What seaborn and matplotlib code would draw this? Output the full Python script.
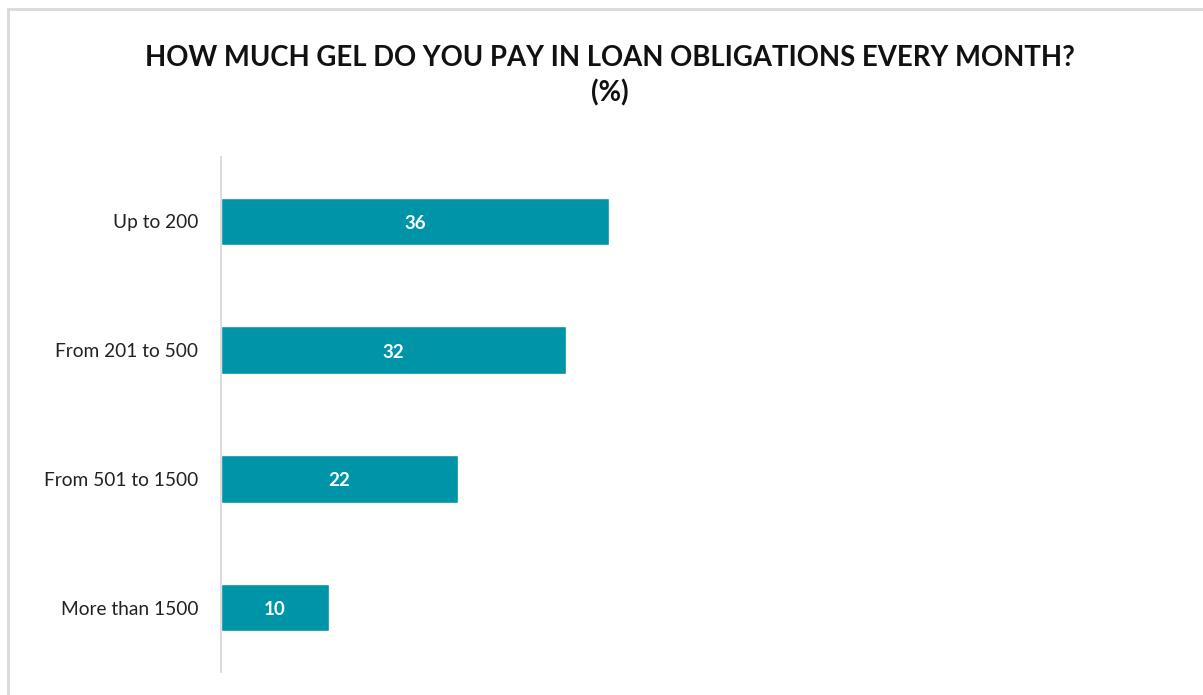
import matplotlib
matplotlib.use("Agg")
import matplotlib.pyplot as plt
import seaborn as sns
import pandas as pd
from matplotlib.patches import Rectangle

categories = ["Up to 200", "From 201 to 500", "From 501 to 1500", "More than 1500"]
values = [36, 32, 22, 10]
title_text = "HOW MUCH GEL DO YOU PAY IN LOAN OBLIGATIONS EVERY MONTH?\n(%)"

BAR_COLOR = "#0094A8"
AXIS_GREY = "#D9D9D9"

sns.set_theme(style="white")
plt.rcParams["font.family"] = ["Lato", "DejaVu Sans"]

df = pd.DataFrame({"category": categories, "value": values})

fig = plt.figure(figsize=(12.03, 6.95), dpi=100)
fig.patch.set_facecolor("white")

# light frame around the chart area
fig.patches.append(Rectangle((8 / 1203, -0.05), 1.1, 0.05 + (695 - 9) / 695,
                             transform=fig.transFigure, fill=False,
                             edgecolor=AXIS_GREY, linewidth=2, zorder=0))

ax = fig.add_axes([221 / 1203, 23 / 695, 970 / 1203, 515 / 695])
sns.barplot(data=df, x="value", y="category", color=BAR_COLOR, width=0.37,
            saturation=1, ax=ax, orient="h")

ax.set_xlim(0, 970 / 10.78)
ax.set_ylim(3.5, -0.5)
ax.set_xlabel("")
ax.set_ylabel("")
ax.set_xticks([])
ax.tick_params(axis="y", length=0, pad=16.5, labelsize=13.8, labelcolor="#222222")
for side in ["top", "right", "bottom"]:
    ax.spines[side].set_visible(False)
ax.spines["left"].set_color(AXIS_GREY)
ax.spines["left"].set_linewidth(1.3)

for container in ax.containers:
    labels = ax.bar_label(container, labels=[f"{v:g}" for v in values],
                          label_type="center", color="white", fontsize=13.5,
                          fontweight="bold")
    for t in labels:
        t.set_y(t.get_position()[1] - 1.5)

fig.text(0.507, 0.891, title_text, ha="center", va="center", fontsize=19.8,
         fontweight="bold", color="#111111", linespacing=1.4)

fig.savefig("out.png", dpi=100)
